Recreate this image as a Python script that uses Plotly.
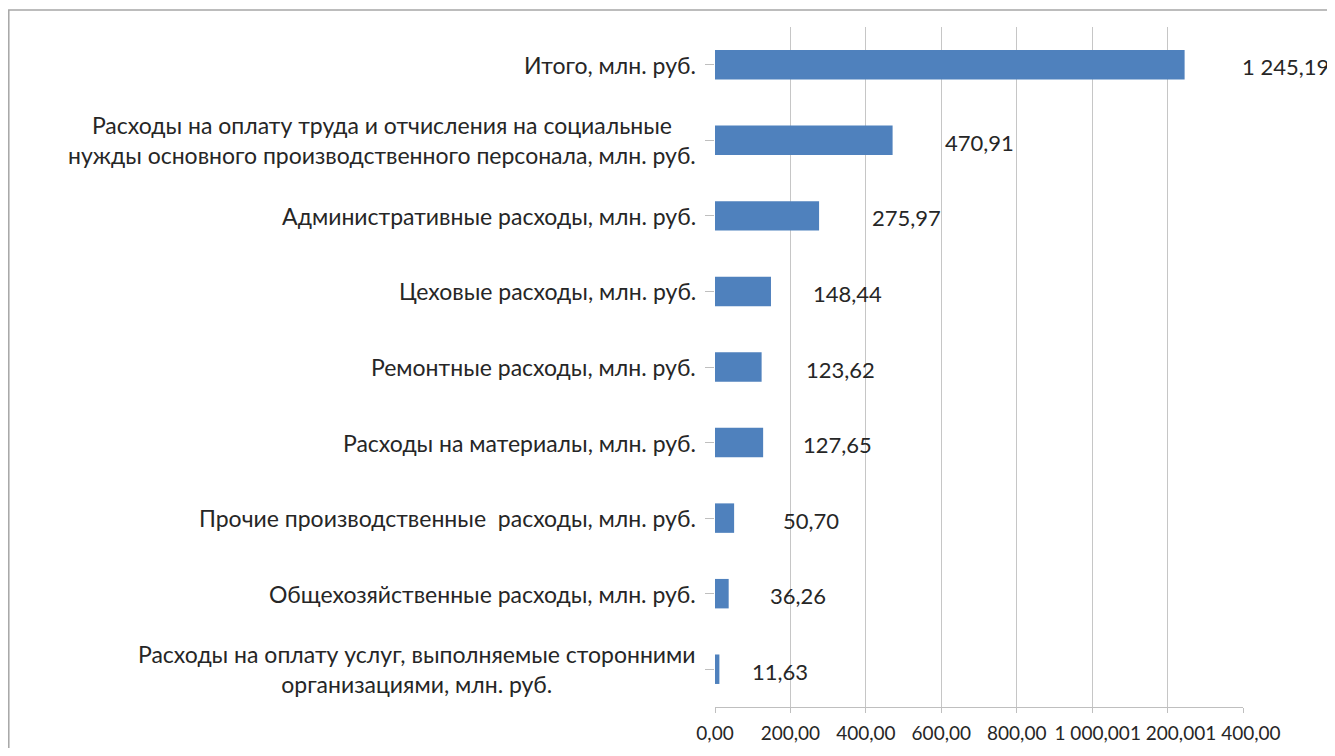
import plotly.graph_objects as go

# ---- data ----
categories = [
    "Итого, млн. руб.",
    "Расходы на оплату труда и отчисления на социальные<br>нужды основного производственного персонала, млн. руб.",
    "Административные расходы, млн. руб.",
    "Цеховые расходы, млн. руб.",
    "Ремонтные расходы, млн. руб.",
    "Расходы на материалы, млн. руб.",
    "Прочие производственные  расходы, млн. руб.",
    "Общехозяйственные расходы, млн. руб.",
    "Расходы на оплату услуг, выполняемые сторонними<br>организациями, млн. руб.",
]
values = [1245.19, 470.91, 275.97, 148.44, 123.62, 127.65, 50.70, 36.26, 11.63]
value_labels = ["1 245,19", "470,91", "275,97", "148,44", "123,62", "127,65", "50,70", "36,26", "11,63"]
x_tickvals = [0, 200, 400, 600, 800, 1000, 1200, 1400]
x_ticktext = ["0,00", "200,00", "400,00", "600,00", "800,00", "1 000,00", "1 200,00", "1 400,00"]

# ---- style ----
label_shift_px = [101, 87, 87, 77, 79, 74, 77, 69, 61]
FONT = "Lato, Carlito, Calibri, 'Open Sans', sans-serif"
BAR_COLOR = "#4F81BD"
GRID = "#c6c6c6"
OFF = 8  # page body margin
W, H = 1335 - OFF, 756 - 2 * OFF
ML, MT = 715 - OFF, 27 - OFF
PW, PH = 528, 680
MR, MB = W - ML - PW, H - MT - PH

fig = go.Figure(
    go.Bar(
        x=values,
        y=list(range(len(categories))),
        orientation="h",
        marker=dict(color=BAR_COLOR, line=dict(width=0)),
        width=0.39,
        hoverinfo="x",
    )
)

annotations = []
for i, (v, lab, sh) in enumerate(zip(values, value_labels, label_shift_px)):
    annotations.append(dict(
        x=v, y=i, xref="x", yref="y", text=lab, showarrow=False,
        xanchor="center", yanchor="middle", xshift=sh, yshift=-2,
        font=dict(family=FONT, size=22, color="#262626"),
    ))
for i, c in enumerate(categories):
    annotations.append(dict(
        x=0, y=i, xref="paper", yref="y", text=c, showarrow=False,
        xanchor="right", yanchor="middle", align="center", xshift=-17,
        font=dict(family=FONT, size=23, color="#262626"),
    ))

fig.update_layout(
    width=W, height=H,
    margin=dict(l=ML, r=MR, t=MT, b=MB, pad=0, autoexpand=False),
    paper_bgcolor="white", plot_bgcolor="white",
    showlegend=False,
    annotations=annotations,
    shapes=[dict(
        type="rect", xref="paper", yref="paper",
        x0=(0.8 - ML) / PW, x1=(W + 20 - ML) / PW,
        y0=(MT + PH - (H + 20)) / PH, y1=(MT + PH - (10 - OFF)) / PH,
        line=dict(color="#a6a6a6", width=1.5), fillcolor="rgba(0,0,0,0)", layer="below",
    )],
    xaxis=dict(
        range=[0, 1400], tickvals=x_tickvals, ticktext=x_ticktext,
        showgrid=True, gridcolor=GRID, gridwidth=1, zeroline=False,
        showline=True, linecolor="#bfbfbf", linewidth=1,
        ticks="outside", ticklen=5, tickcolor="#bfbfbf",
        tickfont=dict(family=FONT, size=19, color="#262626"),
        tickangle=0, ticklabelstandoff=4, automargin=False,
        fixedrange=True,
    ),
    yaxis=dict(
        range=[len(categories) - 0.5, -0.5],
        tickvals=list(range(len(categories))),
        showticklabels=False, showgrid=False, zeroline=False, showline=False,
        tickson="boundaries", ticks="outside", ticklen=9, tickcolor="#bfbfbf",
        type="linear", fixedrange=True, automargin=False,
    ),
)

fig.write_html("out.html")
